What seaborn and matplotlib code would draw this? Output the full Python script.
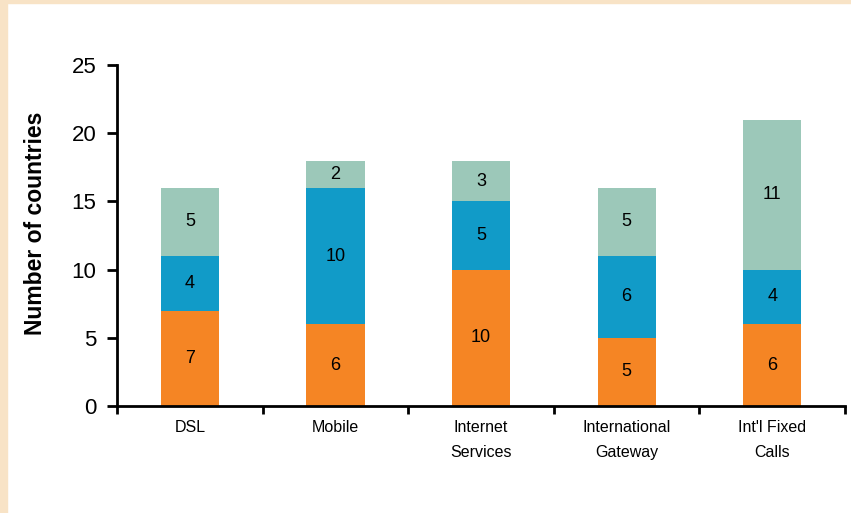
import matplotlib
matplotlib.use("Agg")
import matplotlib.pyplot as plt
import matplotlib.patches as mpatches
import seaborn as sns
import pandas as pd
import numpy as np

categories = ["DSL", "Mobile", "Internet\nServices", "International\nGateway", "Int'l Fixed\nCalls"]
bottom_vals = [7, 6, 10, 5, 6]
middle_vals = [4, 10, 5, 6, 4]
top_vals = [5, 2, 3, 5, 11]

c_orange = "#F58524"
c_blue = "#119BC8"
c_green = "#9CC8B9"

sns.set_style("white")
plt.rcParams['font.family'] = ['Liberation Sans', 'DejaVu Sans']
plt.rcParams['text.color'] = 'black'
plt.rcParams['axes.labelcolor'] = 'black'
plt.rcParams['xtick.color'] = 'black'
plt.rcParams['ytick.color'] = 'black'

df = pd.DataFrame({"cat": categories, "b": bottom_vals, "m": middle_vals, "t": top_vals})
df["bm"] = df["b"] + df["m"]
df["bmt"] = df["bm"] + df["t"]

fig = plt.figure(figsize=(8.51, 5.13), dpi=100)
ax = fig.add_axes([0.1375, 0.2086, 0.8555, 0.6644])

# stacked: draw totals first, then cover with lower layers
sns.barplot(data=df, x="cat", y="bmt", color=c_green, width=0.4, saturation=1, linewidth=0, ax=ax)
sns.barplot(data=df, x="cat", y="bm", color=c_blue, width=0.4, saturation=1, linewidth=0, ax=ax)
sns.barplot(data=df, x="cat", y="b", color=c_orange, width=0.4, saturation=1, linewidth=0, ax=ax)

for i, row in df.iterrows():
    ax.text(i, row["b"] / 2, str(row["b"]), ha="center", va="center", fontsize=13)
    ax.text(i, row["b"] + row["m"] / 2, str(row["m"]), ha="center", va="center", fontsize=13)
    ax.text(i, row["bm"] + row["t"] / 2, str(row["t"]), ha="center", va="center", fontsize=13)

ax.set_xlim(-0.5, 4.5)
ax.set_ylim(0, 25)
ax.set_yticks([0, 5, 10, 15, 20, 25])
ax.tick_params(axis="y", labelsize=16, length=7, width=2, direction="out", left=True, pad=8)
ax.tick_params(axis="x", which="major", length=0, labelsize=11.5, pad=10)
ax.set_xticks(np.arange(-0.5, 5, 1), minor=True)
ax.tick_params(axis="x", which="minor", length=6, width=2, direction="out", bottom=True)
for lab in ax.get_xticklabels():
    lab.set_linespacing(1.85)
    lab.set_verticalalignment("top")

for s in ["top", "right"]:
    ax.spines[s].set_visible(False)
for s in ["left", "bottom"]:
    ax.spines[s].set_linewidth(2)
    ax.spines[s].set_color("black")

ax.set_xlabel("")
ax.set_ylabel("Number of countries", fontsize=16.5, fontweight="bold")
ax.yaxis.set_label_coords(-0.096, 0.535)

# beige frame along the top and left edges
fig.patches.append(mpatches.Rectangle((0, 0), 7 / 851, 1, transform=fig.transFigure,
                                      color="#F8E3C6", zorder=0))
fig.patches.append(mpatches.Rectangle((0, 1 - 3 / 513), 1, 3 / 513, transform=fig.transFigure,
                                      color="#F8E3C6", zorder=0))

plt.savefig("out.png", dpi=100)
